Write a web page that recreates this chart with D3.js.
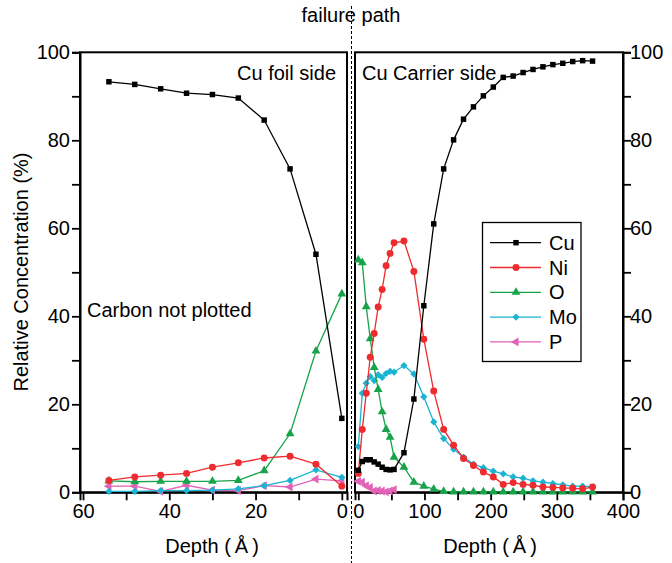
<!DOCTYPE html>
<html>
<head>
<meta charset="utf-8">
<script src="https://cdn.jsdelivr.net/npm/d3@7"></script>
<style>
  html, body { margin: 0; padding: 0; background: #fff; }
  svg { display: block; }
  text { font-family: "Liberation Sans", Arial, Helvetica, sans-serif; fill: #000; }
</style>
</head>
<body>
<svg id="chart" width="672" height="563"></svg>
<script>
// ---------------- DATA ----------------
const elements = ["Cu", "Ni", "O", "Mo", "P"];

// Left panel (Cu foil side): depth in Å
const leftDepth = [54, 48, 42, 36, 30, 24, 18, 12, 6, 0];
const leftCu = [93.3, 92.7, 91.7, 90.7, 90.4, 89.6, 84.6, 73.5, 54.1, 16.8];
const leftNi = [2.7, 3.5, 3.9, 4.3, 5.7, 6.7, 7.8, 8.2, 6.4, 1.4];
const leftO  = [2.6, 2.4, 2.5, 2.5, 2.5, 2.7, 4.9, 13.3, 32.1, 45.1];
const leftMo = [0.2, 0.2, 0.4, 0.4, 0.5, 0.8, 1.5, 2.7, 5.1, 3.4];
const leftP  = [1.4, 1.4, 0.2, 1.6, 0.5, 0.4, 1.5, 1.2, 3.0, 2.6];

// Right panel (Cu carrier side): depth in Å
const rightDepth = [0, 6, 12, 18, 24, 30, 36, 42, 48, 54,
  69, 84, 99, 114, 129, 144, 159, 174, 189, 204,
  219, 234, 249, 264, 279, 294, 309, 324, 339, 354];
const rightCu = [5.0, 7.0, 7.4, 7.4, 6.9, 6.4, 5.7, 5.2, 5.1, 5.2,
  9.0, 21.2, 42.4, 61.0, 73.5, 80.1, 84.8, 87.6, 90.1, 92.1,
  94.3, 94.6, 95.4, 96.1, 96.7, 97.2, 97.5, 97.9, 98.1, 98.0];
const rightNi = [4.3, 14.3, 22.5, 30.7, 36.1, 42.1, 46.1, 51.5, 54.3, 56.7,
  57.1, 50.2, 34.8, 23.0, 14.3, 10.7, 7.7, 6.1, 4.6, 3.5,
  1.8, 2.2, 1.8, 1.6, 1.2, 1.1, 1.0, 0.9, 0.8, 1.2];
const rightO  = [52.8, 52.2, 42.2, 34.9, 28.4, 23.4, 18.3, 14.3, 12.5, 8.0,
  5.7, 2.3, 1.4, 0.7, 0.2, 0.1, 0.1, 0.1, 0.1, 0.1,
  0.1, 0.1, 0.1, 0.1, 0.1, 0.1, 0.1, 0.1, 0.1, 0.1];
const rightMo = [10.4, 22.5, 24.8, 26.3, 25.4, 26.7, 26.1, 27.0, 27.5, 27.3,
  28.8, 26.9, 21.7, 16.0, 12.2, 9.8, 8.0, 6.4, 5.6, 4.8,
  4.2, 3.5, 3.2, 2.6, 2.3, 2.0, 1.7, 1.4, 1.4, 1.2];
const rightPDepth = [0, 6, 12, 18, 24, 30, 36, 42, 48, 54];
const rightP  = [2.5, 2.3, 1.5, 1.1, 0.3, 0.4, 0.3, 0.1, 0.3, 0.6];

const yTicksMajor = [0, 20, 40, 60, 80, 100];
const yTicksAll = [0, 10, 20, 30, 40, 50, 60, 70, 80, 90, 100];
const leftXTicksMajor = [60, 40, 20, 0];
const leftXTicksAll = [60, 50, 40, 30, 20, 10, 0];
const rightXTicksMajor = [0, 100, 200, 300, 400];
const rightXTicksAll = [0, 50, 100, 150, 200, 250, 300, 350, 400];

const colors = { Cu: "#000000", Ni: "#ee2b2e", O: "#17a34a", Mo: "#19b3d3", P: "#e162b6" };

// ---------------- LAYOUT ----------------
const svg = d3.select("#chart");
const yTop = 52.3, yBottom = 492.3;
const y = d3.scaleLinear().domain([0, 100]).range([yBottom, yTop]);
const xL = d3.scaleLinear().domain([60.7, -1.2]).range([80, 347]);
const xR = d3.scaleLinear().domain([-5, 400]).range([355, 623]);
const FONT = 20;

function symbolFor(el) {
  const g = {
    Cu: { type: d3.symbolSquare, size: 30, rot: 0 },
    Ni: { type: d3.symbolCircle, size: 38, rot: 0 },
    O:  { type: d3.symbolTriangle, size: 34, rot: 0 },
    Mo: { type: d3.symbolSquare, size: 26, rot: 45 },
    P:  { type: d3.symbolTriangle, size: 34, rot: -90 }
  };
  return g[el];
}

function drawSeries(g, xs, depths, vals, el) {
  const col = colors[el];
  const pts = depths.map((d, i) => [xs(d), y(vals[i])]);
  g.append("path")
    .attr("d", d3.line()(pts))
    .attr("fill", "none")
    .attr("stroke", col)
    .attr("stroke-width", 1.3);
  const s = symbolFor(el);
  g.selectAll(null).data(pts).enter().append("path")
    .attr("d", d3.symbol().type(s.type).size(s.size)())
    .attr("transform", p => `translate(${p[0]},${p[1]}) rotate(${s.rot})`)
    .attr("fill", col);
}

// ---------------- LEFT PANEL ----------------
const gL = svg.append("g");
gL.append("rect").attr("x", 80).attr("y", yTop).attr("width", 347 - 80).attr("height", yBottom - yTop)
  .attr("fill", "none").attr("stroke", "#000").attr("stroke-width", 2);
const yAxisL = d3.axisLeft(y).tickValues(yTicksAll).tickSize(8)
  .tickFormat(d => yTicksMajor.includes(d) ? d : "");
const gyL = gL.append("g").attr("transform", "translate(80,0)").call(yAxisL);
const xAxisL = d3.axisBottom(xL).tickValues(leftXTicksAll).tickSize(8)
  .tickFormat(d => leftXTicksMajor.includes(d) ? d : "");
const gxL = gL.append("g").attr("transform", `translate(0,${yBottom})`).call(xAxisL);

// ---------------- RIGHT PANEL ----------------
const gR = svg.append("g");
gR.append("rect").attr("x", 355).attr("y", yTop).attr("width", 623 - 355).attr("height", yBottom - yTop)
  .attr("fill", "none").attr("stroke", "#000").attr("stroke-width", 2);
const yAxisR = d3.axisRight(y).tickValues(yTicksAll).tickSize(8)
  .tickFormat(d => yTicksMajor.includes(d) ? d : "");
const gyR = gR.append("g").attr("transform", "translate(623,0)").call(yAxisR);
const xAxisR = d3.axisBottom(xR).tickValues(rightXTicksAll).tickSize(8)
  .tickFormat(d => rightXTicksMajor.includes(d) ? d : "");
const gxR = gR.append("g").attr("transform", `translate(0,${yBottom})`).call(xAxisR);

[gyL, gxL, gyR, gxR].forEach(a => {
  a.select(".domain").attr("stroke-width", 2);
  a.selectAll(".tick line").attr("stroke-width", 1.8);
  a.selectAll(".tick text").style("font-size", FONT + "px")
    .style("font-family", '"Liberation Sans", Arial, sans-serif');
});
gyL.selectAll(".tick text").attr("x", -10);
gyR.selectAll(".tick text").attr("x", 7);
gxL.selectAll(".tick text").attr("y", 12);
gxR.selectAll(".tick text").attr("y", 12);

// series
const leftData = { Cu: leftCu, Ni: leftNi, O: leftO, Mo: leftMo, P: leftP };
const rightData = { Cu: rightCu, Ni: rightNi, O: rightO, Mo: rightMo, P: rightP };
const order = ["P", "Mo", "O", "Ni", "Cu"];
order.forEach(el => drawSeries(gL, xL, leftDepth, leftData[el], el));
order.forEach(el => drawSeries(gR, xR, el === "P" ? rightPDepth : rightDepth, rightData[el], el));

// ---------------- ANNOTATIONS ----------------
svg.append("line").attr("x1", 351.5).attr("x2", 351.5).attr("y1", 6).attr("y2", 563)
  .attr("stroke", "#000").attr("stroke-width", 1).attr("stroke-dasharray", "3,2");
svg.append("text").attr("x", 351).attr("y", 22).attr("text-anchor", "middle")
  .style("font-size", FONT + "px").text("failure path");

svg.append("text").attr("x", 336).attr("y", 80).attr("text-anchor", "end")
  .style("font-size", FONT + "px").text("Cu foil side");
svg.append("text").attr("x", 362).attr("y", 80).attr("text-anchor", "start")
  .style("font-size", FONT + "px").text("Cu Carrier side");
svg.append("text").attr("x", 87).attr("y", 317).attr("text-anchor", "start")
  .style("font-size", FONT + "px").text("Carbon not plotted");

svg.append("text").attr("transform", "translate(28,272) rotate(-90)").attr("text-anchor", "middle")
  .style("font-size", FONT + "px").text("Relative Concentration (%)");
svg.append("text").attr("x", 212).attr("y", 553).attr("text-anchor", "middle")
  .style("font-size", FONT + "px").text("Depth (\u2009\u00C5\u2009)");
svg.append("text").attr("x", 490).attr("y", 553).attr("text-anchor", "middle")
  .style("font-size", FONT + "px").text("Depth (\u2009\u00C5\u2009)");

// ---------------- LEGEND ----------------
const lg = svg.append("g");
lg.append("rect").attr("x", 482.5).attr("y", 222.5).attr("width", 98.5).attr("height", 139)
  .attr("fill", "#fff").attr("stroke", "#000").attr("stroke-width", 1.3);
elements.forEach((el, i) => {
  const ry = 242.7 + i * 24.8;
  lg.append("line").attr("x1", 490).attr("x2", 541).attr("y1", ry).attr("y2", ry)
    .attr("stroke", colors[el]).attr("stroke-width", 1.3);
  const s = symbolFor(el);
  lg.append("path").attr("d", d3.symbol().type(s.type).size(s.size)())
    .attr("transform", `translate(516,${ry}) rotate(${s.rot})`).attr("fill", colors[el]);
  lg.append("text").attr("x", 549).attr("y", ry + 7).style("font-size", FONT + "px").text(el);
});
</script>
</body>
</html>
